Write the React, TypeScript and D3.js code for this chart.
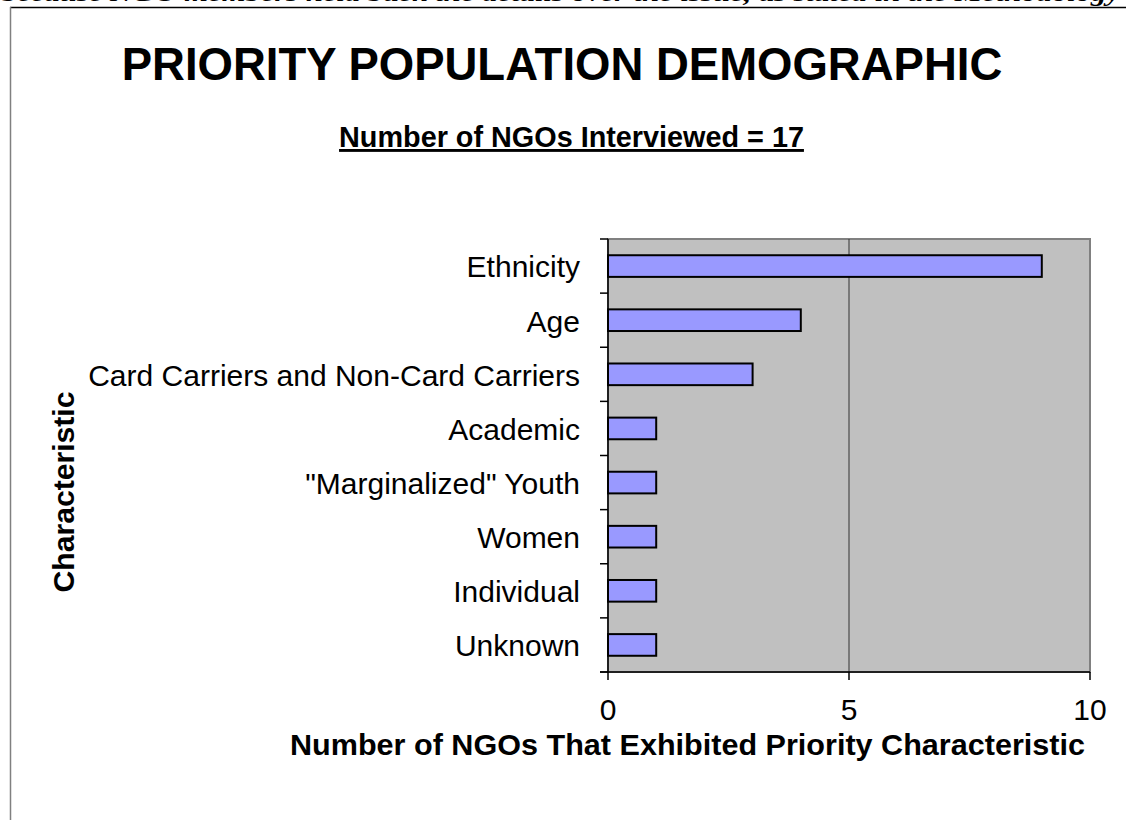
import React from "react";
import * as d3 from "d3";

const categories = [
  "Ethnicity",
  "Age",
  "Card Carriers and Non-Card Carriers",
  "Academic",
  "\"Marginalized\" Youth",
  "Women",
  "Individual",
  "Unknown",
];
const values = [9, 4, 3, 1, 1, 1, 1, 1];
const xTicks = [0, 5, 10];
const title = "PRIORITY POPULATION DEMOGRAPHIC";
const subtitle = "Number of NGOs Interviewed = 17";
const xTitle = "Number of NGOs That Exhibited Priority Characteristic";
const yTitle = "Characteristic";
const topText = "because NGO members held back the details over the issue, as stated in the Methodology";

const W = 1126;
const H = 820;
const plot = { left: 608, right: 1090, top: 239, bottom: 672 };

export default function App() {
  const x = d3.scaleLinear().domain([0, 10]).range([plot.left, plot.right]);
  const y = d3
    .scaleBand<string>()
    .domain(categories)
    .range([plot.top, plot.bottom])
    .paddingInner(0.6)
    .paddingOuter(0.3);
  const step = y.step();
  const font = "Liberation Sans, Arial, sans-serif";
  return (
    <svg
      width={W}
      height={H}
      style={{ position: "absolute", left: 0, top: 0, background: "#fff" }}
      fontFamily={font}
    >
      <text
        x={2}
        y={1}
        fontFamily="Liberation Serif, Times New Roman, serif"
        fontWeight="bold"
        fontStyle="italic"
        fontSize={24}
        textLength={1118}
        lengthAdjust="spacingAndGlyphs"
      >
        {topText}
      </text>
      <line x1={10} x2={W} y1={7.5} y2={7.5} stroke="#000" strokeWidth={1.5} />
      <line x1={10.5} x2={10.5} y1={7} y2={H} stroke="#808080" strokeWidth={1.5} />

      <text x={562} y={80} textAnchor="middle" fontWeight="bold" fontSize={45.5}>
        {title}
      </text>
      <text
        x={571.5}
        y={147}
        textAnchor="middle"
        fontWeight="bold"
        fontSize={28.8}
        textDecoration="underline"
      >
        {subtitle}
      </text>

      <rect
        x={plot.left}
        y={plot.top}
        width={plot.right - plot.left}
        height={plot.bottom - plot.top}
        fill="#c0c0c0"
        stroke="#808080"
        strokeWidth={2}
      />
      {xTicks.slice(1, -1).map((t) => (
        <line key={t} x1={x(t)} x2={x(t)} y1={plot.top} y2={plot.bottom} stroke="#333" strokeWidth={1} />
      ))}
      {categories.map((c, i) => (
        <rect
          key={c}
          x={x(0)}
          y={y(c)}
          width={x(values[i]) - x(0)}
          height={y.bandwidth()}
          fill="#9999ff"
          stroke="#000"
          strokeWidth={2}
        />
      ))}
      <line x1={plot.left} x2={plot.left} y1={plot.top} y2={plot.bottom} stroke="#000" strokeWidth={1.5} />
      <line x1={plot.left - 8} x2={plot.right} y1={plot.bottom} y2={plot.bottom} stroke="#000" strokeWidth={1.5} />
      {d3.range(categories.length + 1).map((i) => (
        <line
          key={i}
          x1={plot.left - 8}
          x2={plot.left}
          y1={plot.top + i * step}
          y2={plot.top + i * step}
          stroke="#000"
          strokeWidth={1.5}
        />
      ))}
      {categories.map((c) => (
        <text
          key={c}
          x={580}
          y={(y(c) as number) + y.bandwidth() / 2}
          dy="0.38em"
          textAnchor="end"
          fontSize={30}
        >
          {c}
        </text>
      ))}
      {xTicks.map((t) => (
        <g key={t}>
          <line x1={x(t)} x2={x(t)} y1={plot.bottom} y2={plot.bottom + 8} stroke="#000" strokeWidth={1.5} />
          <text x={x(t)} y={720} textAnchor="middle" fontSize={30}>
            {t}
          </text>
        </g>
      ))}
      <text
        x={687.5}
        y={755}
        textAnchor="middle"
        fontWeight="bold"
        fontSize={29.5}
        textLength={795}
        lengthAdjust="spacingAndGlyphs"
      >
        {xTitle}
      </text>
      <text
        transform={`translate(74,492) rotate(-90)`}
        textAnchor="middle"
        fontWeight="bold"
        fontSize={29}
        textLength={201}
        lengthAdjust="spacingAndGlyphs"
      >
        {yTitle}
      </text>
    </svg>
  );
}
